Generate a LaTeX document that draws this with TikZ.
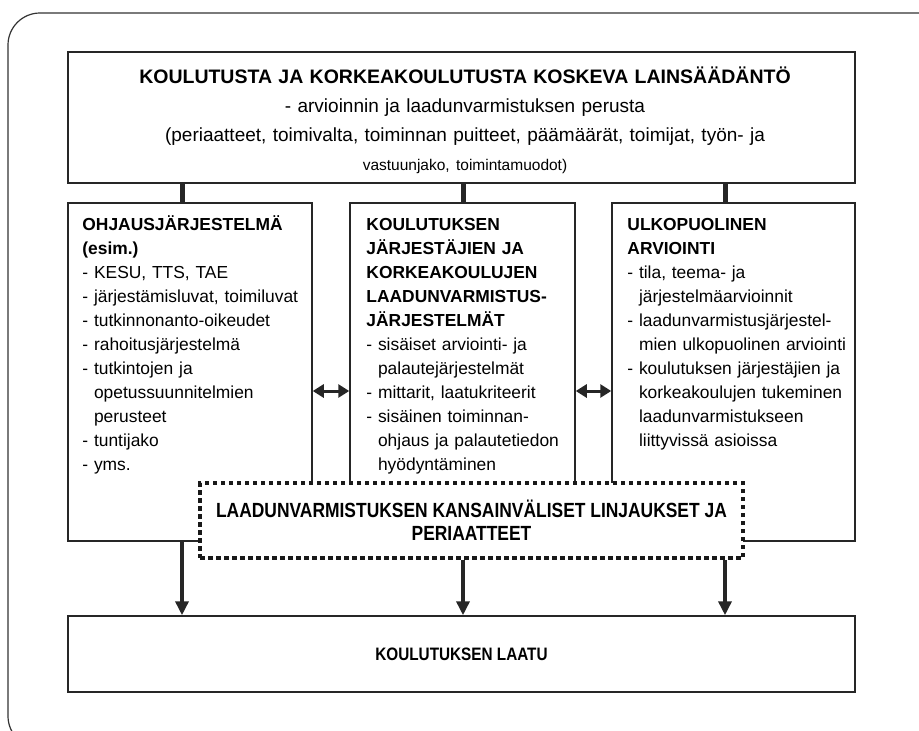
\documentclass[tikz,border=0pt]{standalone}
\usepackage{fontspec}
\setmainfont{Liberation Sans}
\newfontfamily\narrowfont[FakeStretch=0.85]{Liberation Sans}
\usetikzlibrary{positioning, arrows.meta, calc}
\tikzset{every node/.append style={execute at begin node={\hyphenpenalty=10000\exhyphenpenalty=10000\relax}}}

\begin{document}
\begin{tikzpicture}[x=1pt, y=-1pt, >={Triangle[length=14pt, width=13pt]},
  frame/.style={draw=black!80, line width=1.2pt, rounded corners=32pt},
  box/.style={draw=black!85, line width=1.5pt, fill=white, inner sep=0pt},
  dotbox/.style={draw=black!90, line width=4.5pt, dash pattern=on 4.5pt off 3.5pt, fill=white, inner sep=0pt, align=center},
  txt/.style={anchor=base west, inner sep=0pt, text width=240pt, align=left, font=\fontsize{17.4}{24}\selectfont},
  stub/.style={line width=5pt, draw=black!85},
  down/.style={->, line width=4pt, draw=black!85, fill=black!85},
  both/.style={<->, line width=3pt, draw=black!85, >={Triangle[length=11pt, width=13pt]}}]
  \useasboundingbox (0,0) rectangle (919,731);
  \clip (0,0) rectangle (919,731);
  \draw[frame] (8,13) rectangle (955,748);
  \node[box, minimum width=787pt, minimum height=131pt] (law) at (461.5,117.5) {};
  \node[box, minimum width=244pt, minimum height=338pt] (ctrl) at (190,372) {};
  \node[box, minimum width=225pt, minimum height=338pt] (qa) at (462.5,372) {};
  \node[box, minimum width=243pt, minimum height=338pt] (ext) at (733.5,372) {};
  \node[dotbox, minimum width=543pt, minimum height=75pt, font=\narrowfont\bfseries\fontsize{20.5}{23}\selectfont] (intl) at (471.5,520.5) {LAADUNVARMISTUKSEN KANSAINVÄLISET LINJAUKSET JA\\ PERIAATTEET};
  \node[box, minimum width=787pt, minimum height=76pt, font=\narrowfont\bfseries\fontsize{18}{20}\selectfont] (qual) at (461.5,654) {KOULUTUKSEN LAATU};
  \node[anchor=base, inner sep=0pt, text width=780pt, align=center, font=\fontsize{19}{29}\selectfont] (lawtxt) at (465,83) {{\bfseries\fontsize{19.5}{29}\selectfont KOULUTUSTA JA KORKEAKOULUTUSTA KOSKEVA LAINSÄÄDÄNTÖ}\\ - arvioinnin ja laadunvarmistuksen perusta\\ (periaatteet, toimivalta, toiminnan puitteet, päämäärät, toimijat, työn- ja\\ {\fontsize{15.5}{29}\selectfont vastuunjako, toimintamuodot)}};
  \node[txt] (ctrltxt) at ($(ctrl.north west)+(15,28)$) {\textbf{OHJAUSJÄRJESTELMÄ}\\ \textbf{(esim.)}\\ - KESU, TTS, TAE\\ - järjestämisluvat, toimiluvat\\ - tutkinnonanto-oikeudet\\ - rahoitusjärjestelmä\\ - tutkintojen ja\\ \hphantom{- }opetussuunnitelmien\\ \hphantom{- }perusteet\\ - tuntijako\\ - yms.};
  \node[txt] (qatxt) at ($(qa.north west)+(17,28)$) {\textbf{KOULUTUKSEN}\\ \textbf{JÄRJESTÄJIEN JA}\\ \textbf{KORKEAKOULUJEN}\\ \textbf{LAADUNVARMISTUS-}\\ \textbf{JÄRJESTELMÄT}\\ - sisäiset arviointi- ja\\ \hphantom{- }palautejärjestelmät\\ - mittarit, laatukriteerit\\ - sisäinen toiminnan-\\ \hphantom{- }ohjaus ja palautetiedon\\ \hphantom{- }hyödyntäminen};
  \node[txt] (exttxt) at ($(ext.north west)+(16,28)$) {\textbf{ULKOPUOLINEN}\\ \textbf{ARVIOINTI}\\ - tila, teema- ja\\ \hphantom{- }järjestelmäarvioinnit\\ - laadunvarmistusjärjestel-\\ \hphantom{- }mien ulkopuolinen arviointi\\ - koulutuksen järjestäjien ja\\ \hphantom{- }korkeakoulujen tukeminen\\ \hphantom{- }laadunvarmistukseen\\ \hphantom{- }liittyvissä asioissa};
  \coordinate (cl) at (182,0);
  \coordinate (cm) at (463,0);
  \coordinate (cr) at (725,0);
  \coordinate (cy) at (0,391);
  \draw[stub] (law.south -| cl) -- (ctrl.north -| cl);
  \draw[stub] (law.south -| cm) -- (qa.north -| cm);
  \draw[stub] (law.south -| cr) -- (ext.north -| cr);
  \draw[both] (ctrl.east |- cy) -- (qa.west |- cy);
  \draw[both] (qa.east |- cy) -- (ext.west |- cy);
  \draw[down] (ctrl.south -| cl) -- (qual.north -| cl);
  \draw[down] (intl.south -| cm) -- (qual.north -| cm);
  \draw[down] (intl.south -| cr) -- (qual.north -| cr);
\end{tikzpicture}
\end{document}
